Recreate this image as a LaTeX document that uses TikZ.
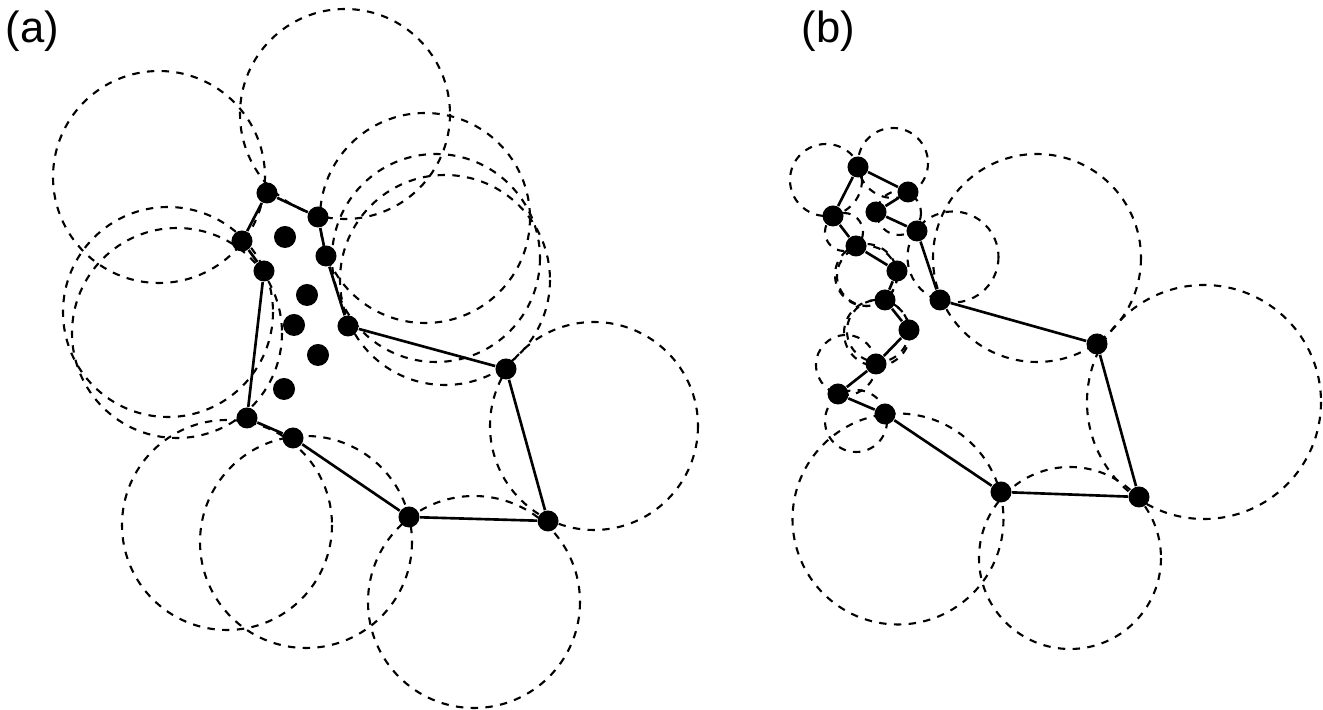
\documentclass[tikz,border=0pt]{standalone}
\usepackage{fontspec}
\newfontfamily\labelfont{Liberation Sans}

\begin{document}
\begin{tikzpicture}[x=0.01cm,y=-0.01cm,
		vtx/.style={circle,fill=black,inner sep=0pt,minimum size=0.21cm},
		inpt/.style={circle,fill=black,inner sep=0pt,minimum size=0.22cm},
		rim/.style={line width=0.75pt},
		ring/.style={line width=0.6pt,dash pattern=on 2.1pt off 2.1pt},
		lbl/.style={anchor=base west,inner sep=0pt,font=\labelfont\fontsize{12.4}{15}\selectfont}]
			\useasboundingbox (0,0) rectangle (1323,710);
			\node[lbl] (la) at (5,42.5) {(a)};
			\node[lbl] (lb) at (801,42.5) {(b)};
			% Vẽ hình (a)
			\foreach \n/\x/\y in {p1/267/193,p2/318/217,p3/242/241,p4/264/271,p5/326/256,p6/348/326,p7/506/369,p8/548/521,p9/409/517,p10/293/438,p11/247/418}
			\node[vtx] (\n) at (\x,\y) {};
			\foreach \n/\x/\y in {i1/285/237,i2/307/295,i3/294/325,i4/318/355,i5/284/389}
			\node[inpt] (\n) at (\x,\y) {};
			\foreach \a/\b in {p1/p2,p2/p5,p5/p6,p6/p7,p7/p8,p8/p9,p9/p10,p10/p11,p11/p4,p4/p3,p3/p1}
			\draw[rim] (\a) -- (\b);
			\foreach \x/\y/\r in {159/177/106,345/114/105,425/218/105,436/258/104,445/280/105,168/312/105,177/333/105,227/525/105,306/542/106,474/602/106,594/426/104}
			\draw[ring] (\x,\y) circle[radius=\r];
			% Vẽ hình (b)
			\foreach \n/\x/\y in {q1/858/167,q2/908/192,q3/833/216,q4/876/212,q5/917/231,q6/856/246,q7/897/271,q8/940/300,q9/885/300,q10/909/330,q11/876/364,q12/838/394,q13/885/414,q14/1097/344,q15/1139/497,q16/1001/492}
			\node[vtx] (\n) at (\x,\y) {};
			\foreach \a/\b in {q1/q2,q2/q4,q4/q5,q5/q8,q8/q14,q14/q15,q15/q16,q16/q13,q13/q12,q12/q11,q11/q10,q10/q9,q9/q7,q7/q6,q6/q3,q3/q1}
			\draw[rim] (\a) -- (\b);
			\foreach \x/\y/\r in {826/180/36,893/163/35,899/213/22,953/257/45.5,1037/258/104,1204/402/117,1070/558/91,898/519/105.5,856/421/31,846/365/30,877/333/33,878/331/31,866/275/31,867/276/30,844/232/19}
			\draw[ring] (\x,\y) circle[radius=\r];
		\end{tikzpicture}
\end{document}
